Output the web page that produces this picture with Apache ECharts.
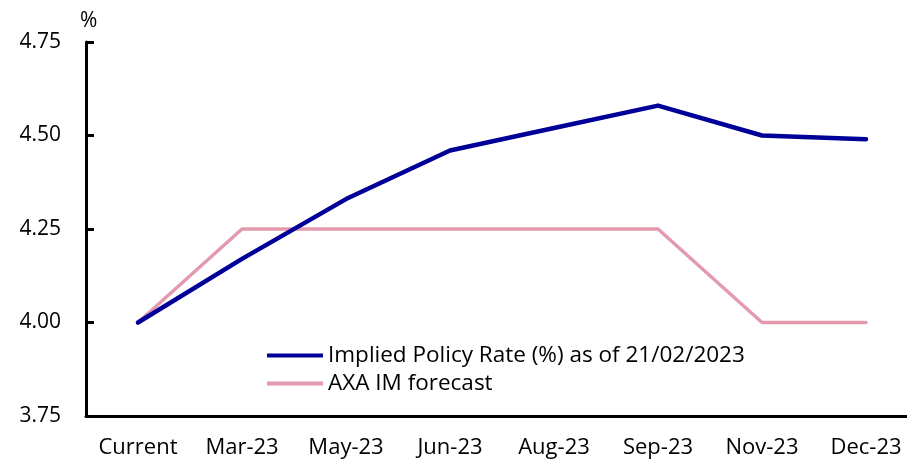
<!DOCTYPE html>
<html>
<head>
<meta charset="utf-8">
<script src="https://cdn.jsdelivr.net/npm/echarts@6/dist/echarts.min.js"></script>
<style>
  html, body { margin: 0; padding: 0; background: #fff; }
  #chart { width: 907px; height: 461px; }
</style>
</head>
<body>
<div id="chart"></div>
<script>
const categories = ['Current', 'Mar-23', 'May-23', 'Jun-23', 'Aug-23', 'Sep-23', 'Nov-23', 'Dec-23'];
const impliedRate = [4.00, 4.17, 4.33, 4.46, 4.52, 4.58, 4.50, 4.49];
const axaForecast = [4.00, 4.25, 4.25, 4.25, 4.25, 4.25, 4.00, 4.00];
const yTicks = [3.75, 4.00, 4.25, 4.50, 4.75];

const font = '"Open Sans", "Noto Sans", sans-serif';
const chart = echarts.init(document.getElementById('chart'));

const option = {
    backgroundColor: '#fff',
    animation: false,
    grid: {
        left: 86,
        top: 42,
        width: 832,
        height: 374,
        outerBoundsMode: 'none',
        containLabel: false
    },
    legend: {
        orient: 'vertical',
        left: 267,
        top: 344,
        padding: 0,
        itemWidth: 56,
        itemHeight: 4,
        itemGap: 5,
        icon: 'rect',
        textStyle: { color: '#000', fontSize: 22.5, fontFamily: font },
        data: ['Implied Policy Rate (%) as of 21/02/2023', 'AXA IM forecast']
    },
    xAxis: {
        type: 'category',
        data: categories,
        boundaryGap: true,
        axisLine: { lineStyle: { color: '#000', width: 3 } },
        axisTick: { show: false },
        axisLabel: { color: '#000', fontSize: 22, fontFamily: font, margin: 21, interval: 0 }
    },
    yAxis: {
        type: 'value',
        min: yTicks[0],
        max: yTicks[yTicks.length - 1],
        interval: 0.25,
        name: '%',
        nameLocation: 'end',
        nameGap: 10,
        nameTextStyle: { color: '#000', fontSize: 21, fontFamily: font, align: 'left', padding: [0, 0, 0, -6] },
        axisLine: { show: true, lineStyle: { color: '#000', width: 3 } },
        axisTick: { show: true, inside: true, length: 8, lineStyle: { color: '#000', width: 3 } },
        splitLine: { show: false },
        axisLabel: {
            color: '#000', fontSize: 21, fontFamily: font, margin: 25,
            formatter: v => v.toFixed(2)
        }
    },
    series: [
        {
            name: 'AXA IM forecast',
            type: 'line',
            data: axaForecast,
            symbol: 'none',
            lineStyle: { color: '#E39AAF', width: 3.5, cap: 'round', join: 'round' },
            itemStyle: { color: '#E39AAF' }
        },
        {
            name: 'Implied Policy Rate (%) as of 21/02/2023',
            type: 'line',
            data: impliedRate,
            symbol: 'none',
            z: 3,
            lineStyle: { color: '#000099', width: 4.5, cap: 'round', join: 'round' },
            itemStyle: { color: '#000099' }
        }
    ]
};
chart.setOption(option);
</script>
</body>
</html>
